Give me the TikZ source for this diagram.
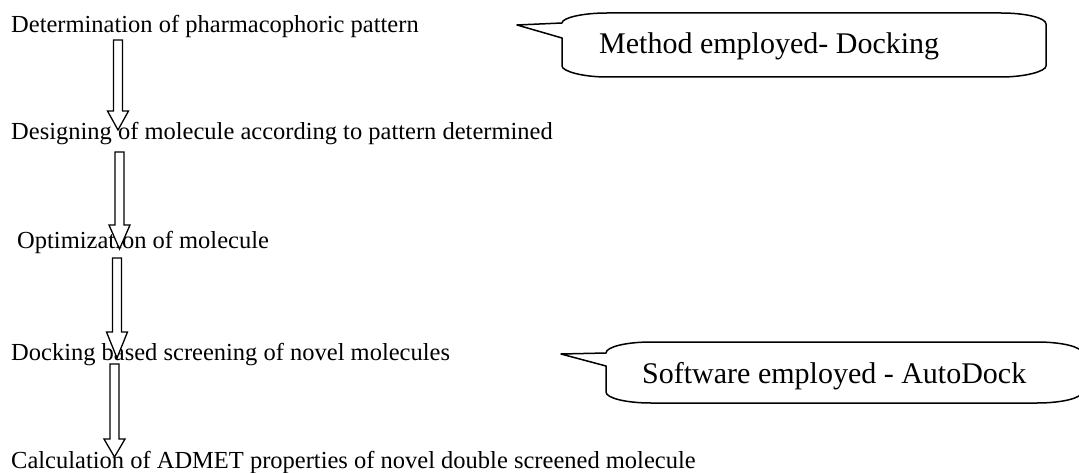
\documentclass[tikz,border=0pt]{standalone}
\usepackage{fontspec}
\setmainfont{Liberation Serif}
\usetikzlibrary{calc}

% hollow block arrow from a start coordinate down to a tip coordinate
% #1 start, #2 tip, #3 head length
\newcommand\blockarrow[3]{%
  \draw[blockline] ($(#1)+(-4.5,0)$) -- ($(#2)+(-4.5,-#3)$) -- ($(#2)+(-10.5,-#3)$)
    -- (#2) -- ($(#2)+(10.5,-#3)$) -- ($(#2)+(4.5,-#3)$) -- ($(#1)+(4.5,0)$) -- cycle;}

\begin{document}
\begin{tikzpicture}[x=1pt,y=-1pt,
  steptext/.style={anchor=base west, inner sep=0pt, font=\fontsize{24.5}{29}\selectfont},
  notetext/.style={anchor=base west, inner sep=0pt, font=\fontsize{30}{36}\selectfont},
  blockline/.style={draw=black, line width=1.3pt, line join=miter, fill=white},
  calloutline/.style={draw=black, line width=1.5pt, line join=round, fill=white}]

\useasboundingbox (0,0) rectangle (1079,473);
\fill[white] (0,0) rectangle (1079,473);
\clip (0,0) rectangle (1079,473);

% workflow steps
\node[steptext] (s1) at (11,33)  {Determination of pharmacophoric pattern};
\node[steptext] (s2) at (11,140) {Designing of molecule according to pattern determined};
\node[steptext] (s3) at (17,248) {Optimization of molecule};
\node[steptext] (s4) at (11,360) {Docking based screening of novel molecules};
\node[steptext] (s5) at (11,468) {Calculation of ADMET properties of novel double screened molecule};

% arrow end points
\coordinate (a1s) at (118,40);   \coordinate (a1e) at (118,130);
\coordinate (a2s) at (119.5,152); \coordinate (a2e) at (119.5,249);
\coordinate (a3s) at (117,258);  \coordinate (a3e) at (117,358);
\coordinate (a4s) at (114.5,364); \coordinate (a4e) at (114.5,457);

\blockarrow{a1s}{a1e}{19}
\blockarrow{a2s}{a2e}{24}
\blockarrow{a3s}{a3e}{26}
\blockarrow{a4s}{a4e}{18}

% callout: method
\coordinate (t1) at (517,25);
\draw[calloutline] (t1) -- (562,23) .. controls (562,17.9) and (582.2,13) .. (607,13)
  -- (1001,13) .. controls (1025.8,13) and (1046,17.9) .. (1046,24)
  -- (1046,66) .. controls (1046,71.1) and (1025.8,77) .. (1001,77)
  -- (607,77) .. controls (582.2,77) and (562,71.1) .. (562,66)
  -- (562,38) -- cycle;
\node[notetext] (n1) at (599,54) {Method employed- Docking};

% callout: software
\coordinate (t2) at (561,354);
\draw[calloutline] (t2) -- (606,353) .. controls (606,346.9) and (626.2,342) .. (651,342)
  -- (1037,342) .. controls (1061.8,342) and (1082,346.9) .. (1082,353)
  -- (1082,392) .. controls (1082,398.1) and (1061.8,403) .. (1037,403)
  -- (651,403) .. controls (626.2,403) and (606,398.1) .. (606,392)
  -- (606,366) -- cycle;
\node[notetext] (n2) at (642,383) {Software employed - AutoDock};

\end{tikzpicture}
\end{document}
